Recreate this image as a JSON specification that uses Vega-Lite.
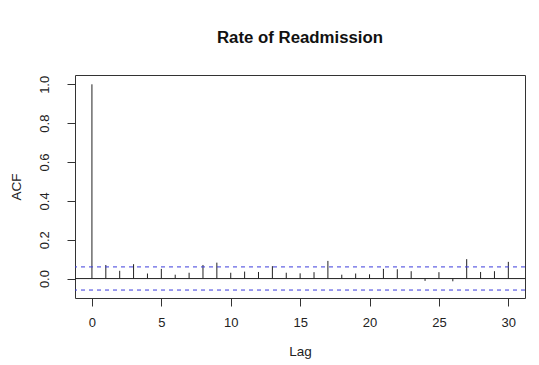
{
  "$schema": "https://vega.github.io/schema/vega-lite/v6.json",
  "autosize": "none",
  "width": 450,
  "height": 223,
  "padding": {"left": 75, "top": 75, "right": 14, "bottom": 67},
  "background": "white",
  "config": {
    "view": {"stroke": "#333", "strokeWidth": 1},
    "font": "Liberation Sans",
    "axis": {
      "domain": false,
      "grid": false,
      "tickColor": "#333",
      "tickSize": 8,
      "labelFont": "Liberation Sans",
      "labelFontSize": 13,
      "labelColor": "#222",
      "titleFont": "Liberation Sans",
      "titleFontSize": 13.5,
      "titleFontWeight": "normal",
      "titleColor": "#222"
    }
  },
  "title": {
    "text": "Rate of Readmission",
    "font": "Liberation Sans",
    "fontSize": 16.8,
    "fontWeight": "bold",
    "color": "#111",
    "anchor": "middle",
    "offset": 28
  },
  "layer": [
    {
      "data": {"values": [
        {"lag": 0, "acf": 1.0},
        {"lag": 1, "acf": 0.07},
        {"lag": 2, "acf": 0.04},
        {"lag": 3, "acf": 0.074},
        {"lag": 4, "acf": 0.026},
        {"lag": 5, "acf": 0.05},
        {"lag": 6, "acf": 0.02},
        {"lag": 7, "acf": 0.03},
        {"lag": 8, "acf": 0.07},
        {"lag": 9, "acf": 0.082},
        {"lag": 10, "acf": 0.03},
        {"lag": 11, "acf": 0.036},
        {"lag": 12, "acf": 0.034},
        {"lag": 13, "acf": 0.064},
        {"lag": 14, "acf": 0.03},
        {"lag": 15, "acf": 0.027},
        {"lag": 16, "acf": 0.033},
        {"lag": 17, "acf": 0.091},
        {"lag": 18, "acf": 0.02},
        {"lag": 19, "acf": 0.026},
        {"lag": 20, "acf": 0.022},
        {"lag": 21, "acf": 0.05},
        {"lag": 22, "acf": 0.048},
        {"lag": 23, "acf": 0.038},
        {"lag": 24, "acf": -0.012},
        {"lag": 25, "acf": 0.033},
        {"lag": 26, "acf": -0.014},
        {"lag": 27, "acf": 0.1},
        {"lag": 28, "acf": 0.034},
        {"lag": 29, "acf": 0.038},
        {"lag": 30, "acf": 0.086}
      ]},
      "mark": {"type": "rule", "color": "#222", "strokeWidth": 1},
      "encoding": {
        "x": {
          "field": "lag", "type": "quantitative", "title": "Lag",
          "scale": {"domain": [-1.22, 31.2], "nice": false, "zero": false},
          "axis": {"values": [0, 5, 10, 15, 20, 25, 30], "labelPadding": 10, "titlePadding": 15, "labelFlush": false}
        },
        "y": {
          "field": "acf", "type": "quantitative", "title": "ACF",
          "scale": {"domain": [-0.1, 1.048], "nice": false, "zero": false},
          "axis": {"values": [0, 0.2, 0.4, 0.6, 0.8, 1.0], "format": ".1f", "labelAngle": 270, "labelAlign": "center", "labelBaseline": "bottom", "labelPadding": 16, "titlePadding": 15, "labelFlush": false}
        },
        "y2": {"datum": 0}
      }
    },
    {
      "data": {"values": [{"level": 0}]},
      "mark": {"type": "rule", "color": "#222", "strokeWidth": 1},
      "encoding": {"y": {"field": "level", "type": "quantitative"}}
    },
    {
      "data": {"values": [{"bound": 0.06}, {"bound": -0.059}]},
      "mark": {"type": "rule", "color": "#3b3bdc", "strokeWidth": 1, "strokeDash": [4, 4]},
      "encoding": {"y": {"field": "bound", "type": "quantitative"}}
    }
  ]
}
